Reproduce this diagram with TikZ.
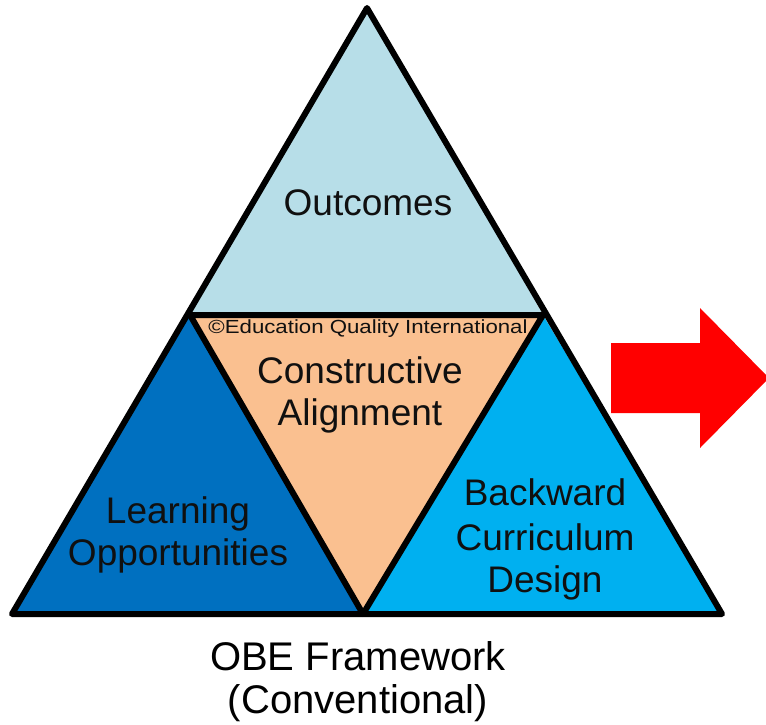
\documentclass[tikz,border=0pt]{standalone}
\usepackage{fontspec}
\setmainfont{Liberation Sans}
\definecolor{outc}{HTML}{B7DEE8}
\definecolor{peach}{HTML}{FAC090}
\definecolor{darkb}{HTML}{0070C0}
\definecolor{lightb}{HTML}{00B0F0}
\definecolor{arrowred}{HTML}{FF0000}
\definecolor{txt}{HTML}{101010}
\tikzset{
  region/.style={draw=black, line width=6pt, line join=round},
  bigtext/.style={anchor=base, inner sep=0pt, text=txt, align=center,
    font=\fontsize{37}{42.5}\selectfont},
  smalltext/.style={anchor=base, inner sep=0pt, text=txt,
    font=\fontsize{19}{22}\selectfont},
  captext/.style={anchor=base, inner sep=0pt, text=black,
    font=\fontsize{40}{43}\selectfont},
}
\begin{document}
\begin{tikzpicture}[x=1pt,y=-1pt]
\useasboundingbox (0,0) rectangle (766,725);
\coordinate (A) at (367,8);
\coordinate (L) at (12,614);
\coordinate (R) at (722,614);
\coordinate (ML) at (190,315);
\coordinate (MR) at (543,315);
\coordinate (MB) at (363,614);
% regions
\fill[outc] (A) -- (ML) -- (MR) -- cycle;
\fill[peach] (ML) -- (MR) -- (MB) -- cycle;
\fill[darkb] (ML) -- (MB) -- (L) -- cycle;
\fill[lightb] (MR) -- (R) -- (MB) -- cycle;
% outlines
\draw[region] (A) -- (L) -- (R) -- cycle;
\draw[region] (ML) -- (MR) -- (MB) -- cycle;
% arrow
\fill[arrowred] (611,343) -- (700,343) -- (700,308) -- (769,378) -- (700,448) -- (700,413) -- (611,413) -- cycle;
% texts
\node[bigtext] (outcomes) at (368,215) {Outcomes};
\node[smalltext, xscale=1.17] (copy) at (368,333) {©Education Quality International};
\node[bigtext] (ca1) at (360,383) {Constructive};
\node[bigtext] (ca2) at (360,425) {Alignment};
\node[bigtext] (lo1) at (178,523) {Learning};
\node[bigtext] (lo2) at (178,565) {Opportunities};
\node[bigtext] (bc1) at (545,505) {Backward};
\node[bigtext] (bc2) at (545,550) {Curriculum};
\node[bigtext] (bc3) at (545,592) {Design};
\node[captext] (obe1) at (358,670) {OBE Framework};
\node[captext] (obe2) at (358,713) {(Conventional)};
\end{tikzpicture}
\end{document}
